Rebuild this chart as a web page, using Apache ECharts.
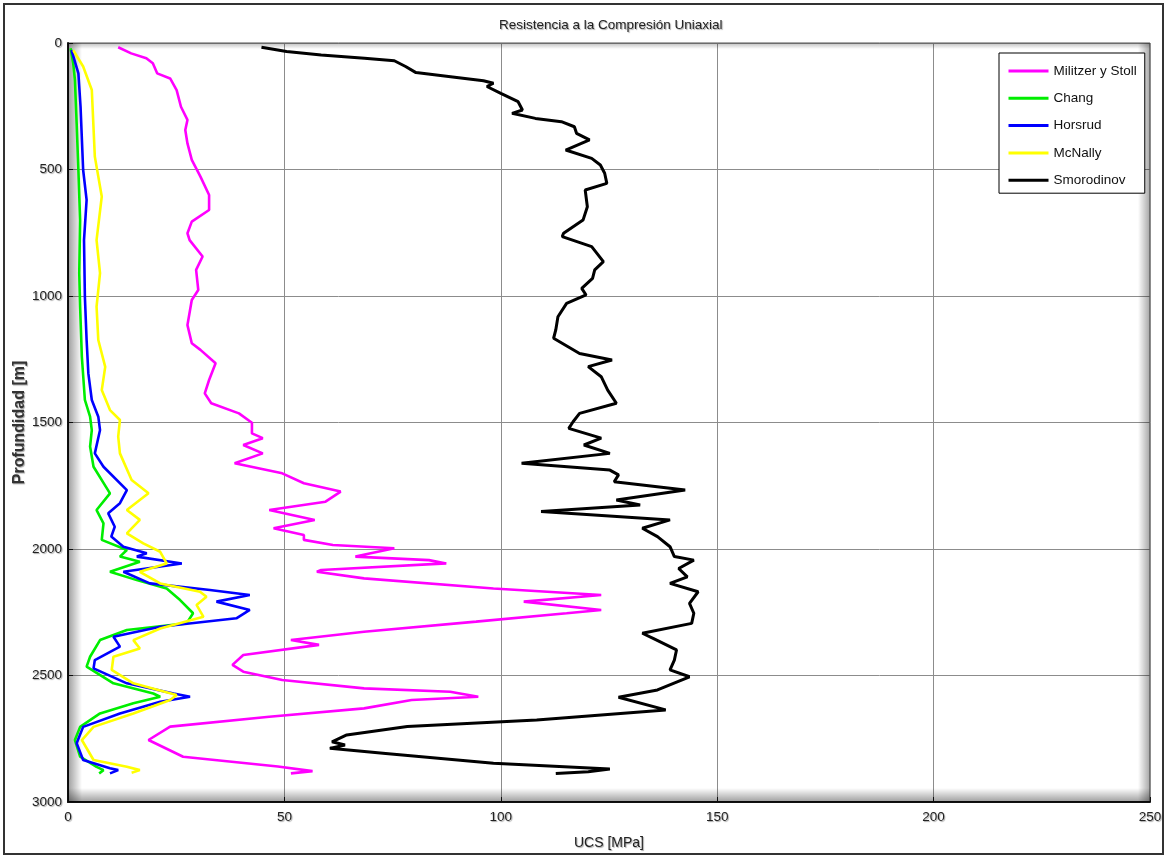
<!DOCTYPE html>
<html>
<head>
<meta charset="utf-8">
<title>Resistencia a la Compresión Uniaxial</title>
<script src="https://cdn.jsdelivr.net/npm/echarts@6/dist/echarts.min.js"></script>
<style>
  html, body { margin: 0; padding: 0; background: #fff; }
  #chart { width: 1167px; height: 858px; }
</style>
</head>
<body>
<div id="chart"></div>
<script>
// UCS profiles: each point is [UCS (MPa), depth (m)]
const militzerStoll = [[11.6,17],[14.6,41],[18.1,60],[19.6,80],[20.6,120],[23.6,140],[25.1,186],[26.1,252],[27.6,304],[27.1,344],[27.6,397],[28.6,462],[30.6,528],[32.6,601],[32.6,660],[28.6,706],[27.6,752],[28.1,779],[31.1,844],[29.6,897],[30.1,976],[28.6,1016],[27.6,1115],[28.6,1187],[30.6,1213],[34.1,1266],[32.6,1332],[31.6,1385],[33.1,1424],[39.5,1464],[42.5,1501],[42.5,1543],[45,1562],[40.5,1589],[45,1622],[38.5,1661],[49.5,1701],[54.5,1740],[63,1773],[59.5,1813],[46.5,1846],[57,1885],[47.5,1918],[54.5,1945],[54.5,1964],[61.2,1984],[75.4,1997],[66.4,2030],[83.4,2044],[87.4,2057],[58.5,2083],[57.5,2090],[68.4,2116],[98.3,2156],[123.2,2182],[105.3,2208],[123.2,2241],[115.2,2254],[94.3,2287],[68.4,2327],[51.5,2360],[58,2379],[40.5,2419],[38,2458],[40.5,2485],[49.5,2518],[68.4,2551],[88.3,2564],[94.8,2584],[79.4,2597],[68.4,2630],[46.5,2663],[23.6,2702],[18.6,2755],[26.6,2821],[48.5,2860],[56.5,2878],[51.5,2887]];

const chang = [[0.6,21],[1.2,80],[1.6,146],[2.0,318],[2.4,502],[2.8,700],[2.6,910],[2.8,1042],[3.2,1240],[3.9,1411],[5.1,1477],[5.5,1530],[5.1,1595],[5.9,1675],[9.7,1780],[6.6,1846],[8.2,1899],[7.8,1964],[13.6,2004],[12.0,2030],[16.6,2050],[9.7,2090],[15.9,2123],[22.8,2156],[25.9,2202],[28.9,2254],[27.4,2294],[13.6,2320],[7.4,2360],[5.1,2426],[4.3,2465],[10.5,2531],[19.7,2571],[21.3,2584],[15.1,2610],[7.4,2650],[2.8,2703],[1.6,2755],[2.8,2821],[6.6,2861],[8.2,2874],[7.2,2887]];

const horsrud = [[0.8,28],[2.4,120],[2.9,252],[3.5,502],[4.3,620],[3.7,779],[3.9,1003],[4.3,1174],[4.7,1306],[5.5,1411],[7.0,1477],[7.4,1530],[6.2,1622],[8.2,1675],[13.6,1767],[12.0,1819],[9.3,1859],[10.8,1912],[10.0,1951],[12.8,1991],[18.2,2017],[15.9,2030],[26.3,2057],[12.8,2090],[18.9,2136],[32.8,2162],[42.0,2182],[34.3,2208],[42.0,2241],[38.9,2274],[21.3,2307],[10.5,2347],[12.0,2386],[6.2,2439],[5.9,2472],[13.6,2531],[24.4,2571],[28.2,2584],[21.3,2604],[12.0,2650],[3.5,2703],[2.0,2768],[3.5,2834],[9.7,2867],[11.6,2874],[9.7,2887]];

const mcNally = [[1.2,28],[3.5,93],[5.5,186],[6.2,449],[7.8,607],[6.6,779],[7.4,910],[6.6,1042],[7.0,1174],[8.6,1280],[7.8,1372],[9.7,1451],[12.0,1490],[11.6,1556],[12.0,1622],[14.7,1727],[18.6,1780],[13.6,1846],[16.6,1885],[13.6,1938],[17.4,1978],[21.3,2011],[22.8,2057],[16.6,2090],[21.3,2136],[30.5,2169],[32.0,2189],[29.7,2221],[31.3,2268],[21.3,2314],[15.1,2360],[16.6,2393],[10.5,2426],[10.1,2478],[15.1,2531],[25.1,2577],[23.6,2597],[15.1,2650],[5.9,2703],[3.2,2755],[5.9,2834],[13.6,2861],[16.6,2874],[14.7,2884]];

const smorodinov = [[44.7,17],[50.5,34],[58.5,47],[68.5,60],[75.4,70],[78,93],[80.4,117],[88.4,133],[96,149],[98.3,159],[96.8,172],[100,199],[104,232],[105,265],[102.6,278],[108,298],[114,311],[117,331],[117.5,357],[120.5,383],[115,423],[121,456],[123,482],[124,515],[124.5,555],[119.5,581],[120,647],[119,700],[114.5,752],[114.2,765],[121,805],[123.7,864],[121.7,897],[121.2,930],[118.7,970],[119.7,996],[115.2,1029],[113.2,1082],[112.7,1134],[112.2,1167],[118.2,1227],[125.7,1253],[120.2,1279],[123.2,1319],[124.7,1372],[126.7,1424],[118.2,1464],[116.7,1497],[115.7,1523],[123.2,1562],[119.2,1589],[125.2,1622],[104.8,1661],[125.2,1688],[127.2,1707],[126.2,1734],[142.6,1767],[126.7,1806],[132.2,1826],[109.3,1852],[139.1,1885],[132.7,1918],[136.2,1951],[139.1,1991],[140.1,2030],[144.6,2044],[141.1,2077],[143.1,2110],[139.1,2136],[145.6,2169],[143.6,2215],[144.6,2254],[144.1,2294],[132.7,2333],[135.2,2353],[140.6,2399],[140.1,2439],[139.1,2478],[143.6,2505],[136.2,2557],[127.2,2586],[138.1,2636],[108.3,2676],[78.4,2702],[64.4,2735],[61,2762],[64,2775],[60.5,2788],[73.4,2808],[98.3,2847],[125.2,2870],[120.2,2880],[112.7,2887]];

const seriesNames = ['Militzer y Stoll', 'Chang', 'Horsrud', 'McNally', 'Smorodinov'];
const seriesData = [militzerStoll, chang, horsrud, mcNally, smorodinov];
const seriesColors = ['#ff00ff', '#00ee00', '#0000ff', '#ffff00', '#000000'];

const ucsTicks = [0, 50, 100, 150, 200, 250];
const depthTicks = [0, 500, 1000, 1500, 2000, 2500, 3000];

const FONT = '"Liberation Sans", Arial, sans-serif';
const shadowText = {
  textShadowColor: 'rgba(0,0,0,0.35)',
  textShadowOffsetX: 1,
  textShadowOffsetY: 1,
  textShadowBlur: 1
};

// plot box in pixels
const G = { left: 68, top: 43, right: 1150, bottom: 802 };

const chart = echarts.init(document.getElementById('chart'), null, { renderer: 'canvas' });

const option = {
  backgroundColor: '#ffffff',
  animation: false,
  title: {
    text: 'Resistencia a la Compresión Uniaxial',
    left: 494,
    top: 13,
    textStyle: Object.assign({ fontFamily: FONT, fontSize: 13.5, fontWeight: 'normal', color: '#222' }, shadowText)
  },
  legend: {
    data: seriesNames,
    orient: 'vertical',
    left: 999,
    top: 53,
    itemWidth: 40,
    itemHeight: 14,
    itemGap: 13.3,
    padding: [11, 8, 6, 8],
    backgroundColor: '#ffffff',
    borderColor: '#000',
    borderWidth: 1,
    itemStyle: { opacity: 0 },
    lineStyle: { width: 3 },
    textStyle: { fontFamily: FONT, fontSize: 13.5, color: '#111' }
  },
  grid: {
    left: G.left,
    top: G.top,
    width: G.right - G.left,
    height: G.bottom - G.top,
    show: true,
    borderColor: '#555',
    borderWidth: 1,
    containLabel: false,
    outerBoundsMode: 'none'
  },
  xAxis: {
    type: 'value',
    min: ucsTicks[0],
    max: ucsTicks[ucsTicks.length - 1],
    interval: 50,
    name: 'UCS [MPa]',
    nameLocation: 'middle',
    nameGap: 34,
    nameMoveOverlap: false,
    nameTextStyle: Object.assign({ fontFamily: FONT, fontSize: 14, color: '#222' }, shadowText),
    axisLine: { show: true, onZero: false, lineStyle: { color: '#111', width: 2 } },
    axisTick: { show: true, inside: true, length: 5, lineStyle: { color: '#111' } },
    axisLabel: Object.assign({ fontFamily: FONT, fontSize: 13.5, color: '#222', margin: 8,
      formatter: v => String(v) }, shadowText),
    splitLine: { show: true, lineStyle: { color: '#8c8c8c', width: 1 } }
  },
  yAxis: {
    type: 'value',
    inverse: true,
    min: depthTicks[0],
    max: depthTicks[depthTicks.length - 1],
    interval: 500,
    name: 'Profundidad [m]',
    nameLocation: 'middle',
    nameRotate: 90,
    nameGap: 40,
    nameMoveOverlap: false,
    nameTextStyle: Object.assign({ fontFamily: FONT, fontSize: 16, fontWeight: 'bold', color: '#333' }, shadowText),
    axisLine: { show: true, onZero: false, lineStyle: { color: '#111', width: 2 } },
    axisTick: { show: true, inside: true, length: 5, lineStyle: { color: '#111' } },
    axisLabel: Object.assign({ fontFamily: FONT, fontSize: 13.5, color: '#222', margin: 6,
      formatter: v => String(v) }, shadowText),
    splitLine: { show: true, lineStyle: { color: '#8c8c8c', width: 1 } }
  },
  graphic: [
    // outer frame
    { type: 'rect', z: 100, silent: true,
      shape: { x: 4, y: 4, width: 1159, height: 850 },
      style: { fill: 'none', stroke: '#333', lineWidth: 2 } },
    // shading along the inner edges of the plot box
    { type: 'rect', z: 1, silent: true,
      shape: { x: G.left, y: G.top, width: 14, height: G.bottom - G.top },
      style: { fill: new echarts.graphic.LinearGradient(0, 0, 1, 0, [
        { offset: 0, color: 'rgba(0,0,0,0.38)' }, { offset: 1, color: 'rgba(0,0,0,0)' }]) } },
    { type: 'rect', z: 1, silent: true,
      shape: { x: G.left, y: G.bottom - 14, width: G.right - G.left, height: 14 },
      style: { fill: new echarts.graphic.LinearGradient(0, 1, 0, 0, [
        { offset: 0, color: 'rgba(0,0,0,0.38)' }, { offset: 1, color: 'rgba(0,0,0,0)' }]) } },
    { type: 'rect', z: 1, silent: true,
      shape: { x: G.right - 12, y: G.top, width: 12, height: G.bottom - G.top },
      style: { fill: new echarts.graphic.LinearGradient(1, 0, 0, 0, [
        { offset: 0, color: 'rgba(0,0,0,0.35)' }, { offset: 1, color: 'rgba(0,0,0,0)' }]) } },
    { type: 'rect', z: 1, silent: true,
      shape: { x: G.left, y: G.top, width: G.right - G.left, height: 6 },
      style: { fill: new echarts.graphic.LinearGradient(0, 0, 0, 1, [
        { offset: 0, color: 'rgba(0,0,0,0.25)' }, { offset: 1, color: 'rgba(0,0,0,0)' }]) } }
  ],
  series: seriesNames.map((name, i) => ({
    name: name,
    type: 'line',
    data: seriesData[i],
    showSymbol: false,
    symbol: 'none',
    smooth: false,
    z: 3 + i,
    lineStyle: { color: seriesColors[i], width: i === 4 ? 3 : 2.6 },
    itemStyle: { color: seriesColors[i] }
  }))
};

chart.setOption(option);
</script>
</body>
</html>
